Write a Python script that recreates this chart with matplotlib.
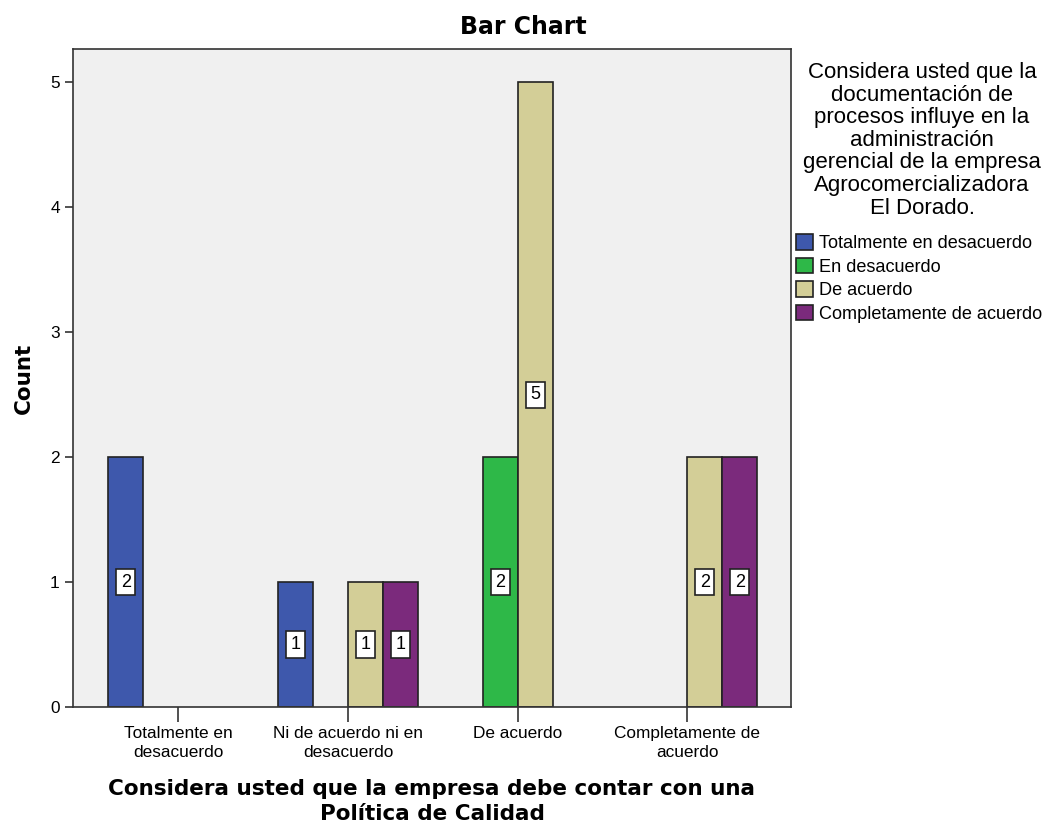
import matplotlib
matplotlib.use("Agg")
import matplotlib.pyplot as plt
import numpy as np

plt.rcParams['font.family'] = ['Liberation Sans', 'DejaVu Sans']

categories = ["Totalmente en\ndesacuerdo", "Ni de acuerdo ni en\ndesacuerdo",
              "De acuerdo", "Completamente de\nacuerdo"]
series_names = ["Totalmente en desacuerdo", "En desacuerdo",
                "De acuerdo", "Completamente de acuerdo"]
# counts per series, one value per x category (0 = no bar)
totalmente_desacuerdo = [2, 1, 0, 0]
en_desacuerdo = [0, 0, 2, 0]
de_acuerdo = [0, 1, 5, 2]
completamente_acuerdo = [0, 1, 0, 2]
colors = ["#3E58AC", "#2EB848", "#D3CE97", "#7B2A7C"]

series = [totalmente_desacuerdo, en_desacuerdo, de_acuerdo, completamente_acuerdo]

bold_font = dict(family="DejaVu Sans", fontweight="bold")

fig = plt.figure(figsize=(10.47, 8.25), dpi=100)
ax = fig.add_axes([73 / 1047, 1 - 707 / 825, (791 - 73) / 1047, (707 - 49) / 825])
ax.set_facecolor("#F0F0F0")

x = np.arange(len(categories))
w = 0.206
handles = []
for i, (vals, col, name) in enumerate(zip(series, colors, series_names)):
    vals = np.array(vals, dtype=float)
    offs = (i - 1.5) * w
    mask = vals > 0
    bars = ax.bar(x[mask] + offs, vals[mask], width=w, color=col,
                  edgecolor="#222222", linewidth=1.2, label=name, zorder=2)
    handles.append(bars)
    for xi, v in zip(x[mask] + offs, vals[mask]):
        ax.text(xi, v / 2, f"{int(v)}", ha="center", va="center", fontsize=13,
                zorder=3,
                bbox=dict(boxstyle="square,pad=0.25", facecolor="white",
                          edgecolor="#222222", linewidth=1.2))

ax.set_xlim(-0.62, 3.61)
ax.set_ylim(0, 5.265)
ax.set_xticks(x)
ax.set_xticklabels(categories, fontsize=12.4, linespacing=1.3)
ax.set_yticks(range(6))
ax.tick_params(axis="both", length=6, width=1.2, colors="#333333",
               labelcolor="black", labelsize=12.4)
ax.tick_params(axis="x", length=11, pad=3)
for s in ax.spines.values():
    s.set_color("#333333")
    s.set_linewidth(1.2)

fig.text(0.5, 1 - 27 / 825, "Bar Chart", ha="center", va="center",
         fontsize=17, **bold_font)
ax.set_ylabel("Count", fontsize=15.5, labelpad=12, **bold_font)
ax.set_xlabel("Considera usted que la empresa debe contar con una\nPolítica de Calidad",
              fontsize=15.5, labelpad=14, linespacing=1.3, **bold_font)

fig.text(922 / 1047, 1 - 62 / 825,
         "Considera usted que la\ndocumentación de\nprocesos influye en la\n"
         "administración\ngerencial de la empresa\nAgrocomercializadora\nEl Dorado.",
         ha="center", va="top", fontsize=16, linespacing=1.1)

leg = fig.legend(handles=handles, labels=series_names, loc="upper left",
                 bbox_to_anchor=(796 / 1047, 1 - 234 / 825), frameon=False,
                 fontsize=13.1, handlelength=0.95, handleheight=0.95,
                 handletextpad=0.3, labelspacing=0.3, borderaxespad=0,
                 borderpad=0)

fig.savefig("out.png", dpi=100)
